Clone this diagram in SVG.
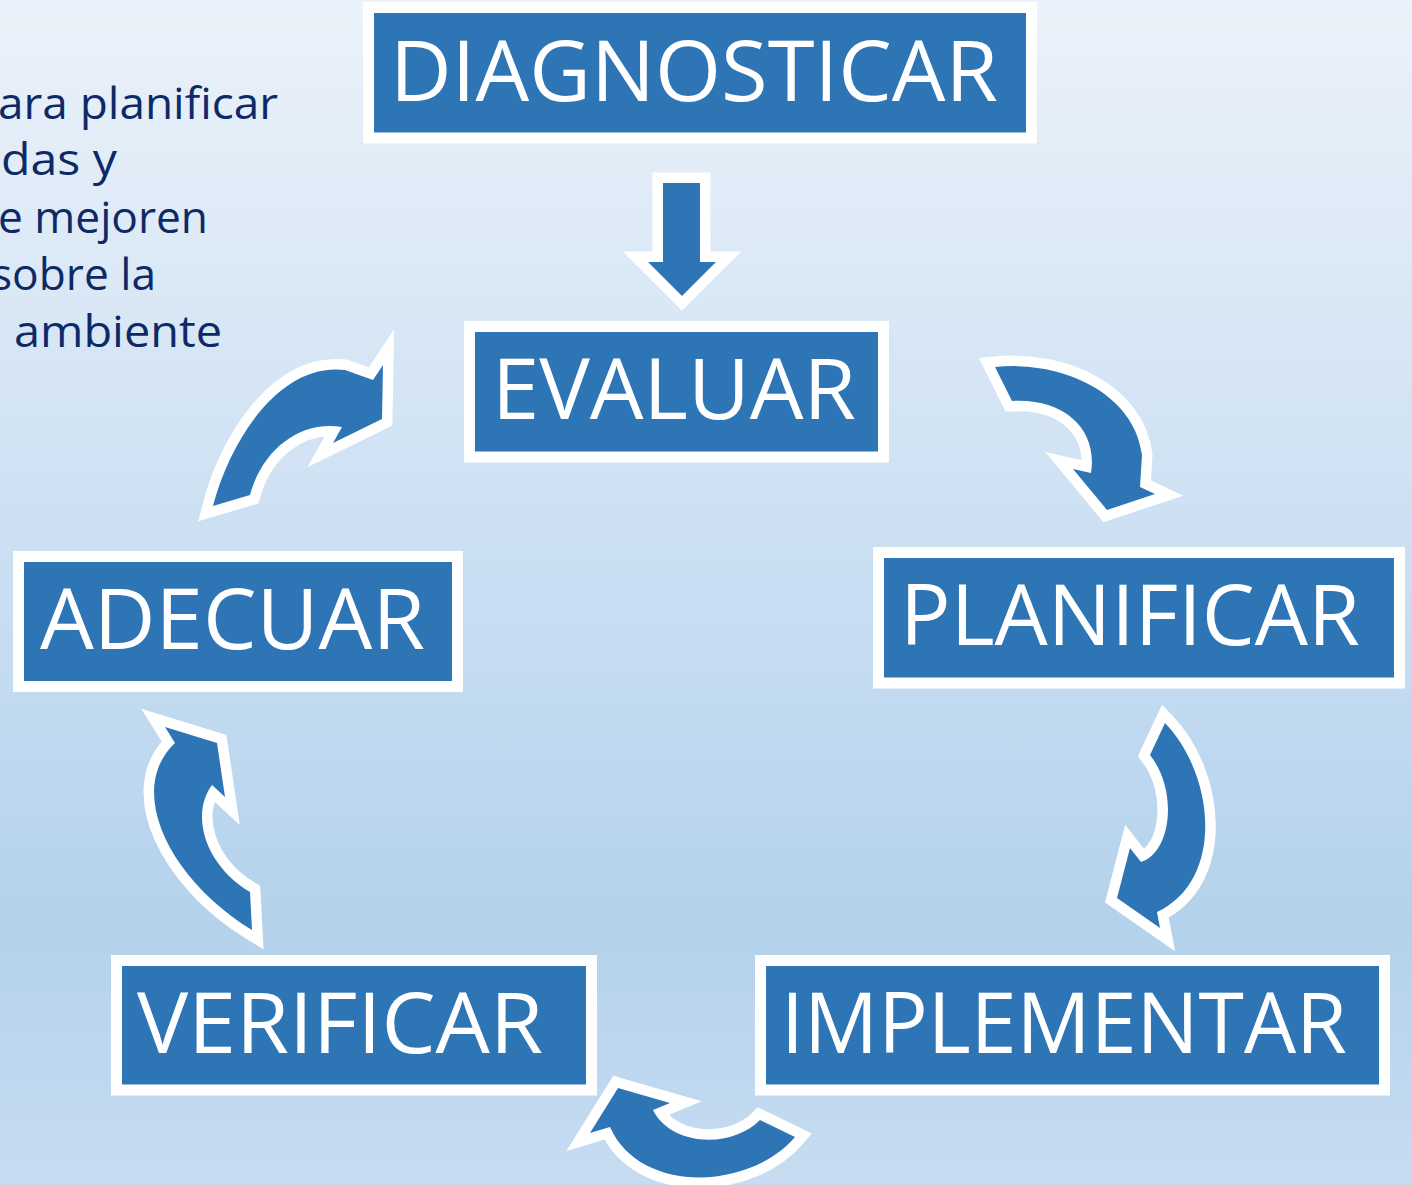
<svg xmlns="http://www.w3.org/2000/svg" width="1412" height="1185" viewBox="0 0 1412 1185">
  <defs>
    <linearGradient id="bg" x1="0" y1="0" x2="0" y2="1">
      <stop offset="0" stop-color="#ebf2fa"/>
      <stop offset="0.5" stop-color="#c9def2"/>
      <stop offset="0.78" stop-color="#b4d2ec"/>
      <stop offset="1" stop-color="#c7dcf1"/>
    </linearGradient>
    <style>
      .box { fill: #2e75b6; stroke: #ffffff; stroke-width: 11; }
      .lbl { font-family: "Open Sans", "Noto Sans", "Liberation Sans", sans-serif; font-size: 84px; fill: #ffffff; font-weight: 400; }
      .arr { fill: #2e75b6; stroke: #ffffff; stroke-width: 21; paint-order: stroke; stroke-linejoin: miter; stroke-miterlimit: 12; }
      .intro { font-family: "Open Sans", "Noto Sans", "Liberation Sans", sans-serif; font-size: 44px; fill: #0d2a66; }
    </style>
  </defs>
  <rect x="0" y="0" width="1412" height="1185" fill="url(#bg)"/>

  <g id="intro-text">
    <text class="intro" x="-2" y="119" textLength="280" lengthAdjust="spacingAndGlyphs">ara planificar</text>
    <text class="intro" x="1" y="175" textLength="116" lengthAdjust="spacingAndGlyphs">das y</text>
    <text class="intro" x="-2" y="233" textLength="210" lengthAdjust="spacingAndGlyphs">e mejoren</text>
    <text class="intro" x="-9" y="290" textLength="165" lengthAdjust="spacingAndGlyphs">sobre la</text>
    <text class="intro" x="14" y="347" textLength="208" lengthAdjust="spacingAndGlyphs">ambiente</text>
  </g>

  <g id="connectors">
    <path id="arrow-diagnosticar-evaluar" class="arr" d="M 663 183 L 700 183 L 700 262 L 716 262 L 682 296 L 648 262 L 663 262 Z"/>
    <path id="arrow-evaluar-planificar" class="arr" d="M 995 367 C 1065 360, 1135 395, 1142 455 L 1140 487 L 1155 494 L 1107 510 L 1073 469 L 1091 473 C 1098 430, 1065 398, 1012 401 Z"/>
    <path id="arrow-planificar-implementar" class="arr" d="M 1165 723 C 1215 775, 1225 880, 1157 912 L 1160 928 L 1117 898 L 1130 848 L 1141 862 C 1172 852, 1178 790, 1150 755 Z"/>
    <path id="arrow-implementar-verificar" class="arr" d="M 618 1088 L 670 1103 L 653 1110 C 670 1145, 730 1150, 760 1120 L 795 1137 C 750 1190, 640 1195, 610 1127 L 590 1133 Z"/>
    <path id="arrow-verificar-adecuar" class="arr" d="M 165 727 L 217 743 L 225 797 L 212 785 C 190 815, 205 865, 250 892 L 252 930 C 170 880, 125 790, 175 743 Z"/>
    <path id="arrow-adecuar-evaluar" class="arr" d="M 213 506 C 230 440, 280 362, 345 370 L 373 380 L 383 365 L 382 419 L 333 443 L 342 427 C 300 420, 262 450, 250 495 Z"/>
  </g>

  <g id="node-diagnosticar">
    <rect class="box" x="368.5" y="7.5" width="663" height="130.5"/>
    <text class="lbl" x="390" y="101" textLength="608" lengthAdjust="spacingAndGlyphs">DIAGNOSTICAR</text>
  </g>
  <g id="node-evaluar">
    <rect class="box" x="469.5" y="326.5" width="414" height="130.5"/>
    <text class="lbl" x="492" y="419" textLength="364" lengthAdjust="spacingAndGlyphs">EVALUAR</text>
  </g>
  <g id="node-planificar">
    <rect class="box" x="878.5" y="552.5" width="521" height="130.5"/>
    <text class="lbl" x="900" y="645" textLength="460" lengthAdjust="spacingAndGlyphs">PLANIFICAR</text>
  </g>
  <g id="node-adecuar">
    <rect class="box" x="18.5" y="556.5" width="439" height="130"/>
    <text class="lbl" x="40" y="649" textLength="385" lengthAdjust="spacingAndGlyphs">ADECUAR</text>
  </g>
  <g id="node-verificar">
    <rect class="box" x="116.5" y="960.5" width="475" height="129.5"/>
    <text class="lbl" x="137" y="1053" textLength="406" lengthAdjust="spacingAndGlyphs">VERIFICAR</text>
  </g>
  <g id="node-implementar">
    <rect class="box" x="760.5" y="960.5" width="624" height="129.5"/>
    <text class="lbl" x="781" y="1053" textLength="566" lengthAdjust="spacingAndGlyphs">IMPLEMENTAR</text>
  </g>
</svg>
